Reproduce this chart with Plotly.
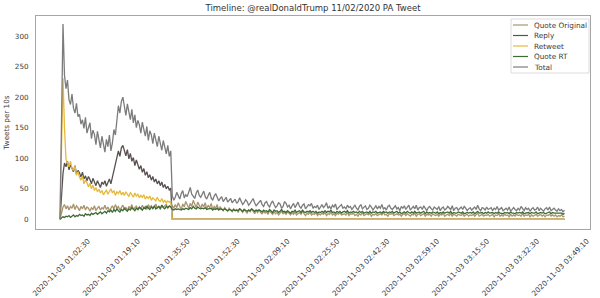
import pandas as pd
import plotly.graph_objects as go

# ---------------- data (30 s resolution) ----------------
START = "2020-11-03 01:02:30"
STEP = "30s"

quote_original = [
    0, 12, 20, 24, 17, 22, 15, 21, 18, 25, 16, 22, 19, 14, 21, 17, 23, 15, 20, 18,
    13, 19, 16, 22, 14, 18, 21, 15, 19, 17, 23, 16, 20, 14, 19, 22, 17, 24, 18, 21,
    15, 20, 23, 17, 19, 14, 21, 18, 24, 16, 20, 22, 15, 19, 17, 23, 18, 21, 16, 24,
    19, 22, 17, 20, 25, 18, 21, 16, 23, 19, 22, 24, 18, 21, 20,
    22, 18, 24, 19, 27, 21, 16, 25, 20, 29, 22, 18, 26, 21, 31, 23, 19, 28, 22, 18,
    25, 20, 27, 17, 23, 19, 26, 16, 21, 18, 24, 15, 20, 17, 14, 19, 16, 13, 18, 15,
    12, 17, 14, 16, 11, 18, 14, 11, 16, 13, 10, 15, 12, 17, 13, 9, 14, 11, 16, 11,
    9, 13, 10, 12, 8, 14, 11, 8, 12, 9, 11, 7, 10, 13, 9, 11, 8, 12, 10, 7,
    11, 8, 12, 7, 9, 11, 8, 13, 9, 6, 10, 8, 12, 7, 9, 8, 11, 6, 9, 7,
    10, 8, 11, 6, 9, 8, 12, 7, 9, 6, 10, 8, 11, 7, 8, 9, 7, 11, 6, 9,
    8, 10, 6, 8, 5, 9, 7, 11, 6, 8, 9, 7, 10, 5, 8, 7, 9, 6, 8, 9,
    7, 11, 7, 8, 5, 9, 8, 10, 6, 7, 9, 7, 8, 5, 8, 9, 6, 9, 7, 5,
    8, 7, 10, 5, 8, 9, 6, 7, 9, 5, 8, 7, 8, 5, 9, 7, 6, 8, 5, 8,
    7, 9, 5, 7, 8, 6, 9, 5, 8, 7, 5, 8, 7, 6, 9, 5, 7, 8, 5, 7,
    6, 8, 5, 7, 10, 5, 7, 8, 5, 7, 6, 8, 5, 7, 8, 4, 7, 6, 9, 5,
    7, 5, 8, 6, 7, 4, 8, 5, 7, 5, 8, 6, 7, 5, 9, 5, 7, 6, 8, 4,
    7, 5, 7, 8, 5, 6, 8, 5, 7, 4, 7, 6, 8, 5, 7, 5, 7, 4, 6, 5,
    7, 4, 5,
]

reply = [
    0, 40, 75, 92, 86, 95, 81, 89, 84, 78, 88, 74, 80, 76, 69, 77, 66, 71, 63, 70,
    65, 58, 67, 61, 55, 63, 58, 52, 61, 57, 63, 54, 60, 66, 58, 69, 75, 88, 97, 112,
    103, 117, 121, 110, 104, 114, 99, 108, 95, 101, 88, 97, 90, 82, 88, 77, 83, 72, 78, 68,
    73, 64, 70, 61, 66, 58, 63, 55, 61, 52, 57, 50, 54, 48, 51,
] + [0] * 263

retweet = [
    0, 120, 231, 150, 98, 92, 86, 95, 83, 80, 87, 72, 78, 69, 64, 71, 58, 64, 60, 53,
    59, 50, 56, 47, 52, 45, 49, 43, 47, 40, 44, 48, 41, 46, 50, 43, 47, 39, 45, 42,
    47, 40, 44, 39, 45, 41, 37, 44, 40, 36, 43, 38, 41, 35, 39, 36, 40, 33, 37, 34,
    38, 31, 35, 33, 30, 36, 31, 29, 34, 28, 31, 27, 30, 28, 29,
] + [0] * 263

quote_rt = [
    0, 2, 4, 3, 5, 4, 6, 3, 5, 7, 4, 6, 5, 8, 6, 7, 5, 9, 7, 8,
    6, 10, 8, 9, 11, 8, 10, 12, 9, 11, 13, 10, 14, 12, 15, 11, 16, 13, 17, 14,
    12, 16, 14, 18, 15, 13, 17, 15, 19, 16, 14, 18, 16, 20, 17, 15, 19, 17, 21, 18,
    16, 20, 18, 22, 17, 19, 21, 18, 23, 19, 17, 21, 19, 22, 20,
    16, 15, 17, 16, 17, 16, 15, 17, 16, 18, 17, 16, 19, 17, 21, 18, 17, 20, 18, 17,
    18, 17, 19, 16, 17, 17, 18, 15, 17, 16, 18, 15, 17, 16, 15, 17, 15, 14, 16, 15,
    14, 16, 14, 15, 14, 17, 15, 13, 16, 14, 13, 15, 14, 17, 15, 13, 15, 14, 15, 13,
    12, 15, 13, 14, 12, 16, 13, 11, 15, 13, 14, 11, 13, 16, 12, 13, 11, 14, 12, 10,
    13, 12, 15, 11, 13, 14, 11, 15, 12, 11, 13, 12, 14, 11, 13, 11, 13, 10, 12, 11,
    13, 11, 14, 11, 13, 12, 15, 11, 12, 10, 13, 11, 13, 10, 12, 13, 11, 14, 10, 12,
    11, 13, 11, 12, 10, 13, 11, 13, 10, 11, 12, 10, 13, 10, 12, 11, 13, 10, 11, 12,
    10, 13, 11, 12, 10, 12, 11, 13, 10, 11, 13, 10, 12, 9, 11, 12, 10, 13, 11, 10,
    12, 10, 13, 10, 11, 12, 10, 11, 13, 9, 12, 10, 11, 10, 12, 11, 10, 12, 9, 11,
    10, 12, 10, 11, 12, 10, 13, 9, 11, 10, 10, 12, 11, 10, 12, 9, 10, 11, 10, 11,
    10, 12, 9, 11, 13, 10, 10, 11, 9, 11, 10, 12, 10, 10, 11, 9, 11, 10, 12, 10,
    10, 9, 11, 10, 11, 9, 12, 10, 10, 9, 11, 10, 11, 10, 12, 9, 10, 10, 11, 9,
    11, 10, 10, 12, 9, 10, 11, 10, 11, 9, 10, 10, 12, 9, 11, 10, 10, 9, 10, 9,
    10, 8, 10,
]

total = [
    0, 175, 320, 236, 214, 228, 196, 188, 205, 182, 174, 190, 168, 172, 156, 163, 149, 167, 141, 150,
    158, 132, 146, 139, 122, 144, 128, 117, 136, 124, 110, 131, 119, 138, 112, 125, 147, 138, 163, 186,
    174, 193, 200, 181, 170, 189, 176, 163, 180, 158, 171, 150, 162, 155, 141, 159, 147, 136, 152, 129,
    145, 138, 124, 141, 130, 119, 136, 122, 113, 129, 118, 107, 121, 103, 112,
    38, 31, 36, 44, 39, 33, 42, 47, 35, 40, 37, 45, 52, 41, 38, 34, 43, 48, 39, 36,
    41, 46, 37, 33, 39, 44, 35, 31, 38, 42, 36, 30, 34, 37, 29, 33, 36, 28, 31, 34,
    27, 30, 33, 26, 29, 35, 28, 24, 27, 32, 29, 23, 26, 30, 34, 27, 22, 25, 29, 31,
    24, 21, 27, 29, 23, 20, 26, 30, 24, 19, 22, 27, 25, 18, 21, 29, 26, 20, 23, 17,
    22, 26, 19, 24, 28, 21, 18, 23, 25, 17, 20, 24, 22, 26, 18, 21, 19, 23, 16, 20,
    24, 19, 22, 27, 18, 21, 17, 23, 20, 25, 16, 19, 22, 24, 18, 20, 17, 23, 19, 21,
    16, 20, 23, 18, 15, 21, 24, 17, 19, 22, 16, 18, 23, 20, 15, 19, 22, 17, 21, 18,
    24, 17, 19, 15, 21, 23, 18, 16, 20, 22, 17, 19, 14, 21, 18, 22, 16, 19, 23, 15,
    18, 21, 17, 23, 15, 19, 20, 16, 22, 18, 14, 19, 21, 17, 15, 20, 18, 16, 21, 14,
    18, 20, 15, 17, 21, 19, 16, 22, 14, 18, 19, 15, 17, 20, 16, 21, 18, 14, 17, 19,
    15, 18, 20, 16, 23, 17, 14, 19, 18, 15, 20, 16, 17, 19, 14, 18, 16, 21, 15, 17,
    19, 14, 16, 18, 15, 20, 13, 17, 19, 16, 14, 18, 15, 21, 17, 14, 19, 16, 18, 13,
    17, 19, 15, 16, 20, 14, 18, 16, 13, 17, 19, 15, 20, 14, 16, 18, 15, 13, 17, 14,
    16, 12, 15,
]

series_names = ["Quote Original", "Reply", "Retweet", "Quote RT", "Total"]
series_colors = ["#a8946e", "#5a5050", "#e7b93a", "#3d6b34", "#7c7c7c"]
tick_labels = [
    "2020-11-03 01:02:30", "2020-11-03 01:19:10", "2020-11-03 01:35:50",
    "2020-11-03 01:52:30", "2020-11-03 02:09:10", "2020-11-03 02:25:50",
    "2020-11-03 02:42:30", "2020-11-03 02:59:10", "2020-11-03 03:15:50",
    "2020-11-03 03:32:30", "2020-11-03 03:49:10",
]
y_ticks = [0, 50, 100, 150, 200, 250, 300]

# ---------------- figure ----------------
times = pd.date_range(START, periods=len(total), freq=STEP)
all_series = [quote_original, reply, retweet, quote_rt, total]

fig = go.Figure()
for name, vals, col in zip(series_names, all_series, series_colors):
    fig.add_trace(go.Scatter(x=times, y=vals, mode="lines", name=name,
                             line=dict(color=col, width=1.3), showlegend=False))

t0 = pd.Timestamp(START)
FONT = "DejaVu Sans"
TXT = "#3a3a3a"

fig.update_layout(
    width=600, height=298,
    margin=dict(l=36, r=10, t=16, b=69),
    paper_bgcolor="white", plot_bgcolor="white",
    font=dict(family=FONT, size=7.2, color=TXT),
    title=dict(text="Timeline: @realDonaldTrump 11/02/2020 PA Tweet",
               xref="paper", x=0.5, xanchor="center", y=0.973, yanchor="middle",
               font=dict(size=8.5, color="#333")),
)
fig.update_xaxes(
    type="date", automargin=False,
    range=[t0 - pd.Timedelta(seconds=481), t0 + pd.Timedelta(seconds=10621)],
    tickvals=[pd.Timestamp(s) for s in tick_labels], ticktext=tick_labels,
    tickangle=-45, ticklabelshift=28, ticklabelstandoff=4,
    tickfont=dict(size=7.3, color=TXT),
    showgrid=False, zeroline=False, ticks="",
    showline=True, mirror=True, linecolor="#a6a6a6", linewidth=1,
)
fig.update_yaxes(
    range=[-16, 333], tickvals=y_ticks, automargin=False,
    tickfont=dict(size=7.2, color=TXT), ticklabelstandoff=5,
    showgrid=False, zeroline=False, ticks="",
    showline=True, mirror=True, linecolor="#a6a6a6", linewidth=1,
    title=dict(text="Tweets per 10s", font=dict(size=7.2, color=TXT), standoff=4),
)

# legend box (drawn to match the compact matplotlib legend)
def px(x):
    return (x - 36) / 554.0

def py(y):
    return (229 - y) / 213.0

fig.add_shape(type="rect", xref="paper", yref="paper",
              x0=px(511), x1=px(589), y0=py(73), y1=py(19),
              line=dict(color="#dcdcdc", width=1), fillcolor="rgba(255,255,255,0.85)")
for i, (name, col) in enumerate(zip(series_names, series_colors)):
    yy = 25 + i * 10.5
    fig.add_shape(type="line", xref="paper", yref="paper",
                  x0=px(513), x1=px(528), y0=py(yy), y1=py(yy),
                  line=dict(color=col, width=1.2))
    fig.add_annotation(xref="paper", yref="paper", x=px(532), y=py(yy),
                       xanchor="left", yanchor="middle", showarrow=False,
                       text=name, font=dict(size=7.3, color=TXT))

fig.write_html("out.html")
